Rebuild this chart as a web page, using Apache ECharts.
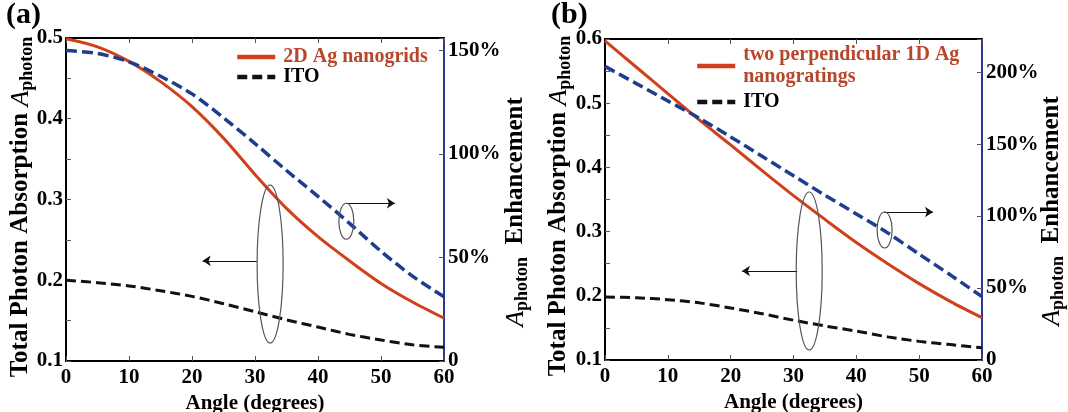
<!DOCTYPE html>
<html><head><meta charset="utf-8">
<script src="https://cdn.jsdelivr.net/npm/echarts@6/dist/echarts.min.js"></script>
<style>html,body{margin:0;padding:0;background:#fff}#c{width:1068px;height:412px}</style>
</head><body><div id="c"></div>
<script>
// ---- data ----
const angles = [0, 5, 10, 15, 20, 25, 30, 35, 40, 45, 50, 55, 60];
// panel (a)
const absAgGrid = [0.499, 0.489, 0.471, 0.446, 0.415, 0.376, 0.331, 0.289, 0.254, 0.224, 0.196, 0.173, 0.153];
const absItoA   = [0.200, 0.197, 0.193, 0.187, 0.180, 0.171, 0.161, 0.151, 0.142, 0.133, 0.126, 0.120, 0.117];
const enhA      = [150, 148.5, 144.5, 137.5, 129, 117.5, 105, 92, 79.5, 66.5, 53, 41, 31];
// panel (b)
const absAgGratings = [0.597, 0.556, 0.515, 0.474, 0.435, 0.395, 0.356, 0.319, 0.283, 0.250, 0.219, 0.191, 0.166];
const absItoB       = [0.198, 0.197, 0.194, 0.189, 0.181, 0.172, 0.162, 0.153, 0.145, 0.136, 0.129, 0.124, 0.119];
const enhB          = [204, 192, 180, 168, 155, 141.5, 128, 114.5, 101.5, 88.3, 73.5, 59, 44];
// names / labels
const panelLabels = ['(a)', '(b)'];
const seriesAgNames = ['2D Ag nanogrids', 'two perpendicular 1D Ag\nnanogratings'];
const itoName = 'ITO';
const xTitle = 'Angle (degrees)';
// callouts in data units: [angle, value]
const bigEllipse = [[32.4, 0.220], [32.5, 0.2386]];
const leftArrow = [[[30.3, 0.224], [21.7, 0.224]], [[30.6, 0.2386], [21.8, 0.2386]]];
const smallEllipse = [[44.5, 67.5], [44.5, 90.3]];
const rightArrow = [[[44.4, 76.2], [52.2, 76.2]], [[44.4, 102.8], [52.2, 102.8]]];

// ---- styling ----
const FONT = "'Liberation Serif','Times New Roman',serif";
const RED = '#d0401c', RED_TXT = '#b8462a', BLUE = '#1f3d8f', AXIS_BLUE = '#2a3a8a', TICK = '#555';
const grids = [
  {left: 66, right: 624, top: 38, bottom: 51},
  {left: 605, right: 86, top: 39, bottom: 52}
];
const leftRange = [[0.1, 0.5], [0.1, 0.6]];
const rightMax = [156, 223];

const pairs = arr => angles.map((a, i) => [a, arr[i]]);

const xAxis = [], yAxis = [], series = [];
grids.forEach((g, gi) => {
  const labelStyle = {color: '#000', fontFamily: FONT, fontWeight: 'bold', fontSize: 21};
  xAxis.push({
    gridIndex: gi, type: 'value', min: 0, max: 60, interval: 10, position: 'bottom',
    axisLine: {show: true, onZero: false, lineStyle: {color: '#000', width: 2}},
    axisTick: {show: true, inside: true, length: 5, lineStyle: {color: TICK, width: 1}},
    axisLabel: Object.assign({show: true, margin: 6}, labelStyle),
    splitLine: {show: false},
    name: xTitle, nameLocation: 'middle', nameGap: 24,
    nameTextStyle: {color: '#000', fontFamily: FONT, fontWeight: 'bold', fontSize: 21}
  });
  xAxis.push({
    gridIndex: gi, type: 'value', min: 0, max: 60, interval: 10, position: 'top',
    axisLine: {show: true, onZero: false, lineStyle: {color: '#000', width: 2}},
    axisTick: {show: true, inside: true, length: 5, lineStyle: {color: TICK, width: 1}},
    axisLabel: {show: false}, splitLine: {show: false}
  });
  yAxis.push({
    gridIndex: gi, type: 'value', min: leftRange[gi][0], max: leftRange[gi][1], interval: 0.1, position: 'left',
    axisLine: {show: true, onZero: false, lineStyle: {color: '#000', width: 2}},
    axisTick: {show: true, inside: true, length: 5, lineStyle: {color: TICK, width: 1}},
    minorTick: {show: true, splitNumber: 2, length: 5, lineStyle: {color: TICK, width: 1}},
    axisLabel: Object.assign({show: true, margin: 3, formatter: v => v.toFixed(1)}, labelStyle),
    splitLine: {show: false}
  });
  yAxis.push({
    gridIndex: gi, type: 'value', min: 0, max: rightMax[gi], interval: 50, position: 'right',
    axisLine: {show: true, onZero: false, lineStyle: {color: AXIS_BLUE, width: 2}},
    axisTick: {show: true, inside: true, length: 5, lineStyle: {color: TICK, width: 1}},
    axisLabel: Object.assign({show: true, margin: 4,
      formatter: v => (Math.abs(v % 50) > 1e-6 ? '' : (v === 0 ? '0' : v + '%'))}, labelStyle),
    splitLine: {show: false}
  });
  const ag = gi === 0 ? absAgGrid : absAgGratings;
  const ito = gi === 0 ? absItoA : absItoB;
  const enh = gi === 0 ? enhA : enhB;
  series.push({
    name: seriesAgNames[gi], type: 'line', xAxisIndex: gi * 2, yAxisIndex: gi * 2,
    data: pairs(ag), smooth: 0.3, showSymbol: false, symbol: 'none',
    lineStyle: {color: RED, width: 3}, itemStyle: {color: RED}, z: 3
  });
  series.push({
    name: itoName, type: 'line', xAxisIndex: gi * 2, yAxisIndex: gi * 2,
    data: pairs(ito), smooth: 0.3, showSymbol: false, symbol: 'none',
    lineStyle: {color: '#111', width: 3, type: [10, 5]}, itemStyle: {color: '#111'}, z: 3,
    markLine: {
      silent: true, symbol: ['none', 'arrow'], symbolSize: 8, animation: false,
      lineStyle: {color: '#111', width: 1, type: 'solid'}, label: {show: false},
      emphasis: {disabled: true},
      data: [[{coord: leftArrow[gi][0]}, {coord: leftArrow[gi][1]}]]
    }
  });
  series.push({
    name: 'Enhancement ' + panelLabels[gi], type: 'line', xAxisIndex: gi * 2, yAxisIndex: gi * 2 + 1,
    data: pairs(enh), smooth: 0.3, showSymbol: false, symbol: 'none',
    lineStyle: {color: BLUE, width: 3.5, type: [11, 5]}, itemStyle: {color: BLUE}, z: 4,
    markLine: {
      silent: true, symbol: ['none', 'arrow'], symbolSize: 8, animation: false,
      lineStyle: {color: '#111', width: 1, type: 'solid'}, label: {show: false},
      emphasis: {disabled: true},
      data: [[{coord: rightArrow[gi][0]}, {coord: rightArrow[gi][1]}]]
    }
  });
});

const legendText = {fontFamily: FONT, fontWeight: 'bold', fontSize: 20, padding: [0, 0, 0, 3]};
const legend = [
  {left: 235, top: 47, padding: 0, orient: 'vertical', itemWidth: 38, itemHeight: 14, itemGap: 0, selectedMode: false,
   lineStyle: {width: 4.5}, itemStyle: {opacity: 0},
   textStyle: Object.assign({lineHeight: 18}, legendText),
   data: [{name: seriesAgNames[0], textStyle: {color: RED_TXT}}, {name: itoName, textStyle: {color: '#000'}}]},
  {left: 695, top: 44, padding: 0, orient: 'vertical', itemWidth: 38, itemHeight: 14, itemGap: 3, selectedMode: false,
   lineStyle: {width: 4.5}, itemStyle: {opacity: 0},
   textStyle: Object.assign({lineHeight: 22}, legendText),
   data: [{name: seriesAgNames[1], textStyle: {color: RED_TXT}}, {name: itoName, textStyle: {color: '#000'}}]}
];

const richTitle = {
  n: {fontFamily: FONT, fontWeight: 'bold', fontSize: 25, lineHeight: 30, color: '#000'},
  a: {fontFamily: FONT, fontStyle: 'italic', fontSize: 26, lineHeight: 30, color: '#000'},
  s: {fontFamily: FONT, fontWeight: 'bold', fontSize: 18, lineHeight: 18, verticalAlign: 'bottom', color: '#000'}
};
const titlePos = [
  {left: [21, 207], right: [516, 212]},
  {left: [559, 206], right: [1052, 211]}
];
const graphic = [];
titlePos.forEach((t, i) => {
  graphic.push({type: 'text', id: 'lt' + i, x: t.left[0], y: t.left[1], rotation: Math.PI / 2,
    style: {text: '{n|Total Photon Absorption }{a|A}{s|photon}', rich: richTitle, align: 'center', verticalAlign: 'middle'}});
  graphic.push({type: 'text', id: 'rt' + i, x: t.right[0], y: t.right[1], rotation: Math.PI / 2,
    style: {text: '{a|A}{s|photon}{n|  Enhancement}', rich: richTitle, align: 'center', verticalAlign: 'middle'}});
});

const title = [
  {text: panelLabels[0], left: 6, top: 0, padding: 0, textStyle: {fontFamily: FONT, fontWeight: 'bold', fontSize: 30, color: '#000'}},
  {text: panelLabels[1], left: 551, top: 0, padding: 0, textStyle: {fontFamily: FONT, fontWeight: 'bold', fontSize: 30, color: '#000'}}
];

const chart = echarts.init(document.getElementById('c'), null, {renderer: 'canvas'});
chart.setOption({
  animation: false, backgroundColor: '#fff',
  title, legend,
  grid: grids.map(g => Object.assign({containLabel: false, outerBoundsMode: 'none'}, g)),
  xAxis, yAxis, series, graphic
});

// ellipses placed through the axes' scales
const extra = [];
[0, 1].forEach(gi => {
  const c1 = chart.convertToPixel({xAxisIndex: gi * 2, yAxisIndex: gi * 2}, bigEllipse[gi]);
  const c2 = chart.convertToPixel({xAxisIndex: gi * 2, yAxisIndex: gi * 2 + 1}, smallEllipse[gi]);
  extra.push({type: 'ellipse', id: 'be' + gi, shape: {cx: c1[0], cy: c1[1], rx: 13, ry: 79}, z: 10,
    style: {fill: 'none', stroke: '#555', lineWidth: 1.2}});
  extra.push({type: 'ellipse', id: 'se' + gi, shape: {cx: c2[0], cy: c2[1], rx: 7.5, ry: 18}, z: 10,
    style: {fill: 'none', stroke: '#555', lineWidth: 1.2}});
});
chart.setOption({graphic: graphic.concat(extra)});
</script>
</body></html>
